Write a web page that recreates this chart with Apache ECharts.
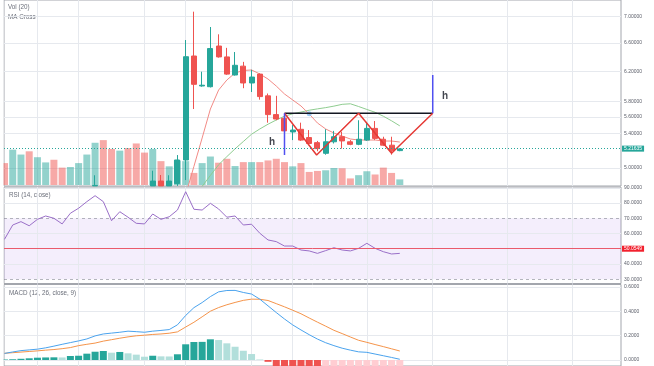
<!DOCTYPE html>
<html><head><meta charset="utf-8">
<script src="https://cdn.jsdelivr.net/npm/echarts@6/dist/echarts.min.js"></script>
<style>html,body{margin:0;padding:0;background:#fff}#c{width:654px;height:366px}</style>
</head><body><div id="c"></div>
<script>
// ---------- data (lows below the pane floor are shown at the floor) ----------
const N = 49; // candle slots 0..48
const opens  = [null,null,null,null,null,null,null,null,null,null,null,4.805,null,null,null,null,null,null,
  4.805,4.857,4.805,4.83,5.09,6.413,6.00,5.99,6.557,6.40,6.148,6.27,6.04,6.16,5.87,5.63,5.584,5.417,5.449,5.35,5.29,5.166,5.30,5.36,5.30,5.27,5.32,5.46,5.33,5.26,5.197];
const closes = [null,null,null,null,null,null,null,null,null,null,null,4.81,null,null,null,null,null,null,
  4.857,4.805,4.857,5.09,6.403,6.022,6.01,6.52,6.40,6.16,6.282,6.04,6.12,5.86,5.63,5.575,5.43,5.44,5.32,5.28,5.22,5.30,5.36,5.31,5.27,5.33,5.46,5.34,5.26,5.196,5.21635];
const lows   = [null,null,null,null,null,null,null,null,null,null,null,4.805,null,null,null,null,null,null,
  4.805,4.805,4.805,4.805,4.868,5.70,5.99,5.98,6.39,6.15,6.14,5.97,5.92,5.82,5.53,5.56,5.41,5.32,5.31,5.26,5.19,5.15,5.28,5.22,5.26,5.26,5.31,5.32,5.25,5.15,5.19];
const highs  = [null,null,null,null,null,null,null,null,null,null,null,4.92,null,null,null,null,null,null,
  4.97,4.923,4.92,5.146,6.645,7.077,6.193,6.84,6.73,6.53,6.47,6.33,6.22,6.17,5.90,5.87,5.65,5.50,5.53,5.44,5.31,5.45,5.43,5.42,5.32,5.56,5.54,5.55,5.36,5.36,5.225];
const volume = [22.3,36,31,34.3,28.3,23,25.7,17.7,18.3,22.3,31,43,45.7,36.7,35,37.7,42.3,33,36.7,24.3,
  19,25,24.3,12.3,22.3,29,22.7,26.7,19.3,23.3,23.3,23.3,25,26.7,23.3,19,22.3,13.3,14.3,15,17.3,17,6.7,10,14,10.7,17.7,12.3,5.7];
const volumeSide = [-1,1,1,-1,1,1,-1,-1,1,1,1,1,-1,-1,1,-1,-1,-1,1,-1,1,1,1,-1,1,1,-1,-1,1,-1,1,-1,-1,-1,-1,1,-1,-1,-1,1,1,-1,-1,1,1,-1,-1,-1,1];
const maFast = [null,null,null,null,null,null,null,null,null,null,null,null,null,null,null,null,null,null,null,null,null,
  4.66,4.71,5.018,5.345,5.700,5.946,6.080,6.175,6.210,6.217,6.162,6.093,5.999,5.894,5.816,5.739,5.637,5.526,5.453,5.404,5.368,5.333,5.321,5.321,5.321,5.309,5.309,5.297];
const maSlow = [null,null,null,null,null,null,null,null,null,null,null,null,null,null,null,null,null,null,null,null,null,null,
  4.62,4.70,4.80,4.918,5.036,5.128,5.218,5.303,5.390,5.453,5.511,5.563,5.610,5.640,5.662,5.685,5.702,5.718,5.737,5.760,5.767,5.732,5.695,5.659,5.610,5.553,5.491];
const rsi = [56.2,65.6,67.8,65.1,69.3,71.5,70.0,66.3,73.3,76.6,80.9,84.8,80.9,68.4,74.3,70.7,66.7,66.3,72.8,69.3,
  71.0,75.4,87.4,75.9,75.4,79.8,76.1,70.7,71.5,65.6,66.1,60.2,55.8,54.7,51.8,51.8,49.2,48.6,47.0,48.8,50.7,49.2,48.6,50.3,53.6,50.3,48.1,46.6,47.0];
const macd = [0.054,0.066,0.077,0.083,0.089,0.100,0.114,0.129,0.143,0.157,0.173,0.198,0.214,0.221,0.228,0.237,0.233,0.228,0.237,0.243,
  0.250,0.289,0.366,0.430,0.472,0.521,0.560,0.571,0.572,0.555,0.542,0.500,0.445,0.390,0.337,0.288,0.247,0.208,0.172,0.142,0.118,0.097,0.081,0.067,0.063,0.049,0.035,0.021,0.006];
const signal = [0.055,0.060,0.065,0.070,0.075,0.081,0.086,0.093,0.102,0.118,0.129,0.139,0.155,0.167,0.179,0.190,0.199,0.204,0.210,0.214,
  0.220,0.231,0.271,0.310,0.355,0.401,0.431,0.454,0.473,0.490,0.500,0.499,0.489,0.463,0.437,0.409,0.380,0.345,0.311,0.278,0.244,0.217,0.189,0.162,0.145,0.127,0.110,0.092,0.074];
const hist = [0.004,0.006,0.010,0.014,0.019,0.021,0.022,0.021,0.033,0.035,0.052,0.068,0.074,0.060,0.066,0.055,0.044,0.027,0.035,0.030,
  0.029,0.047,0.129,0.148,0.149,0.170,0.164,0.137,0.109,0.076,0.049,0.004,-0.015,-0.073,-0.100,-0.121,-0.133,-0.137,-0.139,-0.136,-0.126,-0.120,-0.108,-0.095,-0.082,-0.078,-0.075,-0.071,-0.068];

const priceTicks = [7.0, 6.6, 6.2, 5.8, 5.6, 5.4, 5.0, 4.8];
const rsiTicks = [90, 80, 70, 60, 40, 30];
const rsiBand = [30, 70];
const macdTicks = [0.6, 0.4, 0.2, 0.0];
const timeGridIdx = [4, 9, 17, 22, 30, 35, 44, 52, 61, 69];
const lastPrice = 5.21635;
const rsiLevel = 50.0549;

// hand-drawn pattern (bar index, price)
const neckline = [[34, 5.646], [52, 5.646]];
const zigzag = [[34, 5.646], [37.9, 5.147], [43, 5.646], [47, 5.166], [52, 5.646]];
const heightLeft = [[34, 5.646], [34, 5.147]];
const heightRight = [[52, 5.646], [52, 6.148]];
const hLabels = [[32.5, 5.30], [53.5, 5.86]];
const maCrossPts = [[37, 5.64]];

// ---------- styling ----------
const UP = '#26a69a', DN = '#ef5350';
const VUP = 'rgba(38,166,154,0.5)', VDN = 'rgba(239,83,80,0.5)';
const GRID = '#e6e9ee', BORDER = '#a3a6ad', LBL = '#5d606b';
const FONT = 'Liberation Sans, Arial, sans-serif';
const X0 = -0.06, X1 = 74.86;

function hLine(v, text, extra) {
  return Object.assign({
    yAxis: v,
    lineStyle: { color: GRID, width: 1, type: 'solid' },
    label: { show: true, position: 'end', formatter: text, color: LBL, fontSize: 5, fontFamily: FONT, distance: 3 }
  }, extra || {});
}
function vLines() {
  return timeGridIdx.map(x => ({ xAxis: x, label: { show: false }, lineStyle: { color: GRID, width: 1, type: 'solid' } }));
}
function gridSeries(k, lines) {
  return { type: 'line', xAxisIndex: k, yAxisIndex: k, data: [], silent: true, z: 1,
    markLine: { z: 1, silent: true, symbol: ['none', 'none'], animation: false, data: lines } };
}

const candleData = [];
for (let i = 0; i < N; i++) if (opens[i] != null) candleData.push([i, opens[i], closes[i], lows[i], highs[i]]);
const pairs = arr => arr.map((v, i) => v == null ? null : [i, v]).filter(Boolean);

const volData = volume.map((v, i) => ({ value: [i, v], itemStyle: { color: volumeSide[i] > 0 ? VUP : VDN } }));
const histData = hist.map((v, i) => {
  const prev = i > 0 ? hist[i - 1] : 0;
  let c;
  if (v >= 0) c = v > prev ? '#26a69a' : '#b2dfdb';
  else c = v < prev ? '#ef5350' : '#ffcdd2';
  return { value: [i, v], itemStyle: { color: c } };
});

const mainLines = priceTicks.map(v => hLine(v, v.toFixed(5))).concat(vLines());
const rsiLines = rsiTicks.map(v => hLine(v, v.toFixed(4), rsiBand.indexOf(v) >= 0 ?
  { lineStyle: { color: 'rgba(120,123,134,0.55)', width: 1, type: [3, 3] } } : null)).concat(vLines());
const macdLines = macdTicks.map(v => hLine(v, v.toFixed(4))).concat(vLines());

const option = {
  animation: false,
  backgroundColor: '#ffffff',
  grid: [
    { left: 4, right: 33, top: 0, height: 186, show: true, borderColor: BORDER, borderWidth: 1, backgroundColor: 'transparent' },
    { left: 4, right: 33, top: 130, height: 55, show: false },
    { left: 4, right: 33, top: 187, height: 96.5, show: true, borderColor: BORDER, borderWidth: 1, backgroundColor: 'transparent' },
    { left: 4, right: 33, top: 284.5, height: 81.5, show: true, borderColor: BORDER, borderWidth: 1, backgroundColor: 'transparent' }
  ],
  xAxis: [0, 1, 2, 3].map(k => ({ type: 'value', gridIndex: k, min: X0, max: X1, show: false })),
  yAxis: [
    { type: 'log', gridIndex: 0, position: 'right', min: 4.804, max: 7.263, show: false },
    { type: 'value', gridIndex: 1, min: 0, max: 56, show: false },
    { type: 'value', gridIndex: 2, position: 'right', min: 27.25, max: 90.5, show: false },
    { type: 'value', gridIndex: 3, position: 'right', min: -0.0493, max: 0.6204, show: false }
  ],
  graphic: [
    // white margin left of the chart border
    { type: 'rect', left: 0, top: 0, shape: { x: 0, y: 0, width: 3.5, height: 366 }, style: { fill: '#ffffff' }, z: 100, silent: true },
    { type: 'text', left: 8, top: 4.5, style: { text: 'Vol (20)', fill: '#6b6f7a', fontSize: 6.3, fontFamily: FONT } },
    { type: 'text', left: 8, top: 14, style: { text: 'MA Cross', fill: '#6b6f7a', fontSize: 6.3, fontFamily: FONT } },
    { type: 'text', left: 9, top: 192, style: { text: 'RSI (14, close)', fill: '#6b6f7a', fontSize: 6.3, fontFamily: FONT } },
    { type: 'text', left: 9, top: 290.5, style: { text: 'MACD (12, 26, close, 9)', fill: '#6b6f7a', fontSize: 6.3, fontFamily: FONT } }
  ],
  series: [
    gridSeries(0, mainLines),
    gridSeries(2, rsiLines),
    gridSeries(3, macdLines),
    { type: 'bar', xAxisIndex: 1, yAxisIndex: 1, data: volData, barWidth: 7, z: 6, silent: true, clip: true },
    { type: 'line', xAxisIndex: 0, yAxisIndex: 0, data: pairs(maSlow), showSymbol: false, z: 7, silent: true, clip: true,
      lineStyle: { color: '#8fcc90', width: 1 } },
    { type: 'line', xAxisIndex: 0, yAxisIndex: 0, data: pairs(maFast), showSymbol: false, z: 7, silent: true, clip: true,
      lineStyle: { color: '#f28b86', width: 1 } },
    { type: 'candlestick', xAxisIndex: 0, yAxisIndex: 0, data: candleData, encode: { x: 0, y: [1, 2, 3, 4] },
      barWidth: 5.5, z: 8, silent: true, clip: true,
      itemStyle: { color: UP, color0: DN, borderColor: UP, borderColor0: DN, borderWidth: 1 } },
    { type: 'scatter', xAxisIndex: 0, yAxisIndex: 0, data: maCrossPts, symbol: 'circle', symbolSize: 5, z: 9, silent: true,
      itemStyle: { color: '#86bff0' } },
    // pattern drawing
    { type: 'line', xAxisIndex: 0, yAxisIndex: 0, data: neckline, showSymbol: false, z: 10, silent: true,
      lineStyle: { color: '#131722', width: 1.5 } },
    { type: 'line', xAxisIndex: 0, yAxisIndex: 0, data: zigzag, showSymbol: false, z: 11, silent: true,
      lineStyle: { color: '#e53935', width: 1.5 } },
    { type: 'line', xAxisIndex: 0, yAxisIndex: 0, data: heightLeft, showSymbol: false, z: 11, silent: true,
      lineStyle: { color: '#5050f0', width: 1.5 } },
    { type: 'line', xAxisIndex: 0, yAxisIndex: 0, data: heightRight, showSymbol: false, z: 11, silent: true,
      lineStyle: { color: '#5050f0', width: 1.5 } },
    { type: 'scatter', xAxisIndex: 0, yAxisIndex: 0, data: hLabels, symbolSize: 1, z: 12, silent: true,
      itemStyle: { color: 'rgba(0,0,0,0)' },
      label: { show: true, position: 'inside', formatter: 'h', color: '#131722', fontSize: 10, fontWeight: 'bold', fontFamily: FONT } },
    // last price line
    { type: 'line', xAxisIndex: 0, yAxisIndex: 0, data: [], silent: true, z: 13,
      markLine: { z: 13, silent: true, symbol: ['none', 'none'], animation: false, data: [
        { yAxis: lastPrice, lineStyle: { color: UP, width: 1, type: [1, 2] },
          label: { show: true, position: 'end', formatter: lastPrice.toFixed(5), color: '#fff', backgroundColor: UP,
            padding: [1, 2, 0, 2], fontSize: 5, fontFamily: FONT, distance: 1 } }
      ] } },
    // RSI
    { type: 'line', xAxisIndex: 2, yAxisIndex: 2, data: pairs(rsi), showSymbol: false, z: 8, silent: true, clip: true,
      lineStyle: { color: '#9a6fc8', width: 1 },
      markArea: { silent: true, itemStyle: { color: 'rgba(150,90,230,0.10)' }, data: [[{ yAxis: rsiBand[0] }, { yAxis: rsiBand[1] }]] },
      markLine: { z: 9, silent: true, symbol: ['none', 'none'], animation: false, data: [
        { yAxis: rsiLevel, lineStyle: { color: '#ea5a6b', width: 1, type: 'solid' },
          label: { show: true, position: 'end', formatter: rsiLevel.toFixed(4), color: '#fff', backgroundColor: '#f2212e',
            padding: [1, 2, 0, 2], fontSize: 5, fontFamily: FONT, distance: 1 } }
      ] } },
    // MACD
    { type: 'bar', xAxisIndex: 3, yAxisIndex: 3, data: histData, barWidth: 7, z: 6, silent: true, clip: true },
    { type: 'line', xAxisIndex: 3, yAxisIndex: 3, data: pairs(signal), showSymbol: false, z: 8, silent: true, clip: true,
      lineStyle: { color: '#f5944a', width: 1 } },
    { type: 'line', xAxisIndex: 3, yAxisIndex: 3, data: pairs(macd), showSymbol: false, z: 9, silent: true, clip: true,
      lineStyle: { color: '#4aa3ee', width: 1 } }
  ]
};
const chart = echarts.init(document.getElementById('c'), null, { renderer: 'canvas' });
chart.setOption(option);
</script>
</body></html>
